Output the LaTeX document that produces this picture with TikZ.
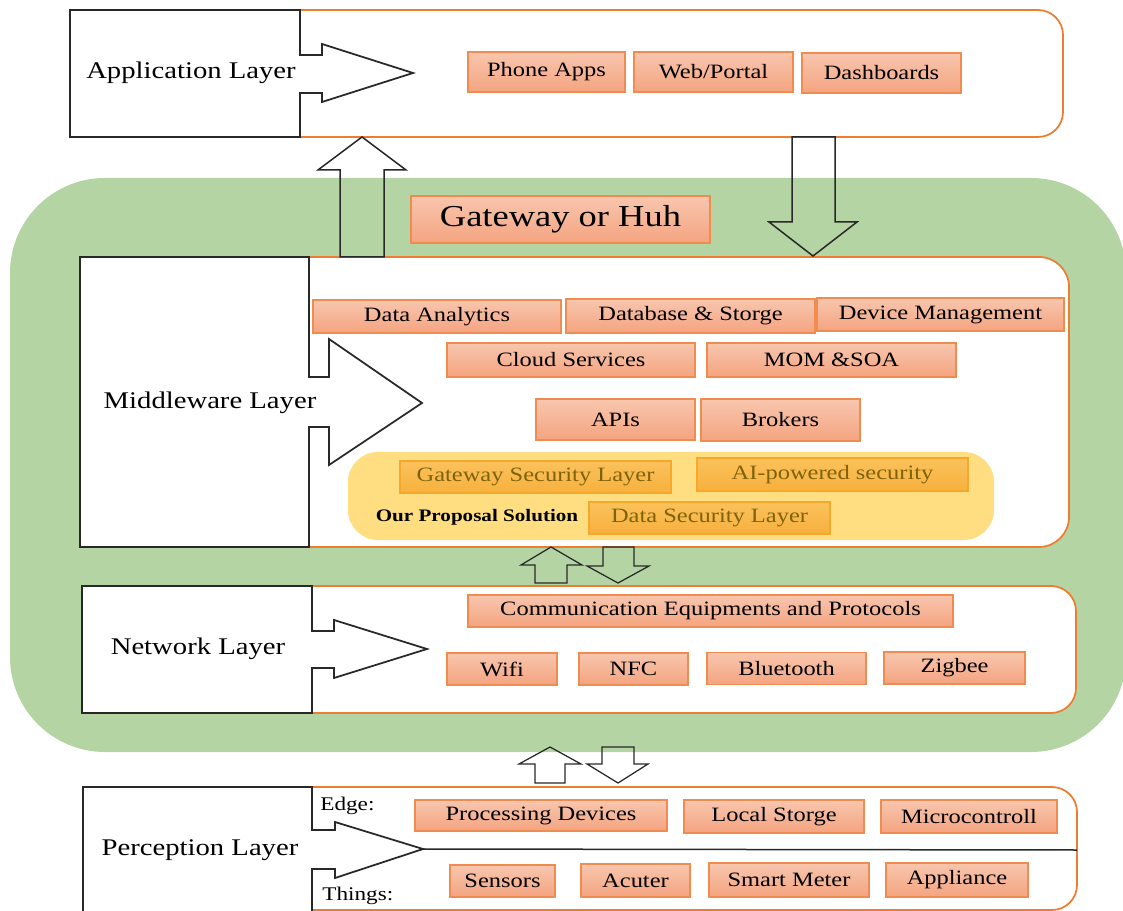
\documentclass[tikz,border=0pt]{standalone}
\usepackage{fontspec}
\setmainfont{Liberation Serif}[FakeStretch=1.2]

\definecolor{gwgreen}{RGB}{181,212,164}
\definecolor{boxline}{RGB}{237,125,49}
\definecolor{tiletop}{RGB}{248,198,174}
\definecolor{tilebot}{RGB}{244,164,128}
\definecolor{tileline}{RGB}{241,140,80}
\definecolor{propfill}{RGB}{255,222,130}
\definecolor{sectop}{RGB}{250,194,92}
\definecolor{secbot}{RGB}{247,176,60}
\definecolor{secline}{RGB}{246,168,45}
\definecolor{sectext}{RGB}{128,98,10}
\definecolor{inkline}{RGB}{40,40,40}

\begin{document}
\begin{tikzpicture}[
  x=0.2mm, y=-0.2mm,
  gateway/.style  = {fill=gwgreen, draw=none, rounded corners=19mm},
  layerbox/.style = {draw=boxline, fill=white, line width=0.35mm, rounded corners=5mm},
  layer/.style    = {draw=inkline, fill=white, line width=0.35mm},
                       % the white layer block with its arrow, drawn over the box
  flow/.style     = {draw=inkline, line width=0.3mm},
  tile/.style     = {draw=tileline, line width=0.3mm, top color=tiletop, bottom color=tilebot,
                      inner sep=0pt, font=\fontsize{11.6}{13}\selectfont},
  sectile/.style  = {draw=secline, line width=0.3mm, top color=sectop, bottom color=secbot,
                      inner sep=0pt, text=sectext, font=\fontsize{11.6}{13}\selectfont},
  lbl/.style      = {inner sep=0pt, font=\fontsize{13.6}{15}\selectfont},
  side/.style     = {inner sep=0pt, anchor=base west, font=\fontsize{11}{13}\selectfont},
]
  \useasboundingbox (0,0) rectangle (1123,911);

  % the gateway band round middleware and network
  \fill[gateway] (10,178) rectangle (1126,752);

  % layer containers
  \draw[layerbox] (255,10) rectangle (1063,137);
  \draw[layerbox,rounded corners=6mm] (255,257) rectangle (1069,547);
  \draw[layerbox] (255,586) rectangle (1076,713);
  \draw[layerbox] (255,787) rectangle (1077,910);

  % layer blocks, each with its arrow into the container
  \draw[layer] (70,10) -- (300,10) -- (300,55) -- (322,55) -- (322,44) -- (413,73)
    -- (322,102) -- (322,93) -- (300,93) -- (300,137) -- (70,137) -- cycle;
  \draw[layer] (80,257) -- (309,257) -- (309,377) -- (329,377) -- (329,339) -- (422,403)
    -- (329,465) -- (329,427) -- (309,427) -- (309,547) -- (80,547) -- cycle;
  \draw[layer] (82,586) -- (312,586) -- (312,631) -- (334,631) -- (334,620) -- (427,649)
    -- (334,678) -- (334,668) -- (312,668) -- (312,713) -- (82,713) -- cycle;
  \draw[layer] (83,787) -- (312,787) -- (312,830) -- (335,830) -- (335,822) -- (423,849)
    -- (335,878) -- (335,869) -- (312,869) -- (312,916) -- (83,916) -- cycle;

  \node[lbl] (app) at (191,73) {Application Layer};
  \node[lbl] (mid) at (210,403) {Middleware Layer};
  \node[lbl] (net) at (198,649) {Network Layer};
  \node[lbl] (per) at (200,850) {Perception Layer};

  % edge / things split in perception
  \coordinate (ptip) at (423,849);
  \coordinate (pend) at (1077,850);
  \draw[flow] (ptip) -- (pend);
  \node[side] (edge) at (320,810) {Edge:};
  \node[side] (things) at (322,900) {Things:};

  % block arrows between the layers
  \draw[flow] (340,257) -- (340,170) -- (318,170) -- (362,137) -- (406,170) -- (384,170) -- (384,257) -- cycle;
  \draw[flow] (792,137) -- (835,137) -- (835,222) -- (857,222) -- (813,256) -- (769,222) -- (792,222) -- cycle;
  \draw[flow,line width=0.25mm] (535,583) -- (535,565) -- (521,565) -- (551,547) -- (582,565) -- (567,565) -- (567,583) -- cycle;
  \draw[flow,line width=0.25mm] (603,547) -- (634,547) -- (634,566) -- (649,566) -- (618,583) -- (587,566) -- (603,566) -- cycle;
  \draw[flow,line width=0.25mm] (535,783) -- (535,764) -- (519,764) -- (550,747) -- (581,764) -- (565,764) -- (565,783) -- cycle;
  \draw[flow,line width=0.25mm] (602,747) -- (634,747) -- (634,764) -- (648,764) -- (618,783) -- (587,764) -- (602,764) -- cycle;

  % application
  \node[tile, minimum width=31.4mm, minimum height=8mm] (phone) at (546.5,72) {Phone Apps};
  \node[tile, minimum width=31.8mm, minimum height=8mm] (web) at (713.5,72) {Web/Portal};
  \node[tile, minimum width=31.8mm, minimum height=8mm] (dash) at (881.5,73) {Dashboards};

  \node[tile, minimum width=59.8mm, minimum height=9.4mm, font=\fontsize{17.3}{19}\selectfont]
    (gw) at (560.5,219.5) {Gateway or Huh};

  % middleware
  \node[tile, minimum width=49.6mm, minimum height=6.6mm] (analytics) at (437,316.5) {Data Analytics};
  \node[tile, minimum width=49.8mm, minimum height=6.8mm] (database) at (690.5,316) {Database \& Storge};
  \node[tile, minimum width=49.4mm, minimum height=6.6mm] (devmgmt) at (940.5,314.5) {Device Management};
  \node[tile, minimum width=49.6mm, minimum height=6.8mm] (cloud) at (571,360) {Cloud Services};
  \node[tile, minimum width=49.8mm, minimum height=6.8mm] (mom) at (831.5,360) {MOM \&SOA};
  \node[tile, minimum width=31.8mm, minimum height=8.2mm] (apis) at (615.5,419.5) {APIs};
  \node[tile, minimum width=31.8mm, minimum height=8.4mm] (brokers) at (780.5,420) {Brokers};

  % our proposal
  \fill[propfill, rounded corners=6mm] (348,452) rectangle (994,540);
  \node[sectile, minimum width=54.2mm, minimum height=6.4mm] (gwsec) at (535.5,477) {Gateway Security Layer};
  \node[sectile, minimum width=54.2mm, minimum height=6.6mm] (aisec) at (832.5,474.5) {AI-powered security};
  \node[sectile, minimum width=48.2mm, minimum height=6.4mm] (datasec) at (709.5,518) {Data Security Layer};
  \node[inner sep=0pt, font=\bfseries\fontsize{10}{12}\selectfont] (prop) at (477,517) {Our Proposal Solution};

  % network
  \node[tile, minimum width=97mm, minimum height=6.4mm] (comm) at (710.5,611) {Communication Equipments and Protocols};
  \node[tile, minimum width=22mm, minimum height=6.4mm] (wifi) at (502,669) {Wifi};
  \node[tile, minimum width=21.8mm, minimum height=6.4mm] (nfc) at (633.5,669) {NFC};
  \node[tile, minimum width=31.8mm, minimum height=6.4mm] (bt) at (786.5,668.5) {Bluetooth};
  \node[tile, minimum width=28.2mm, minimum height=6.4mm] (zigbee) at (954.5,668) {Zigbee};

  % perception
  \node[tile, minimum width=50.4mm, minimum height=6.2mm] (procdev) at (541,815.5) {Processing Devices};
  \node[tile, minimum width=36mm, minimum height=6.6mm] (localst) at (774,816.5) {Local Storge};
  \node[tile, minimum width=35.2mm, minimum height=6.6mm] (micro) at (969,816.5) {Microcontroll};
  \node[tile, minimum width=21mm, minimum height=6.4mm] (sensors) at (502.5,881) {Sensors};
  \node[tile, minimum width=21.8mm, minimum height=6.6mm] (acuter) at (635.5,880.5) {Acuter};
  \node[tile, minimum width=32mm, minimum height=6.8mm] (smart) at (789,880) {Smart Meter};
  \node[tile, minimum width=28.4mm, minimum height=6.8mm] (appl) at (957,880) {Appliance};
\end{tikzpicture}
\end{document}
